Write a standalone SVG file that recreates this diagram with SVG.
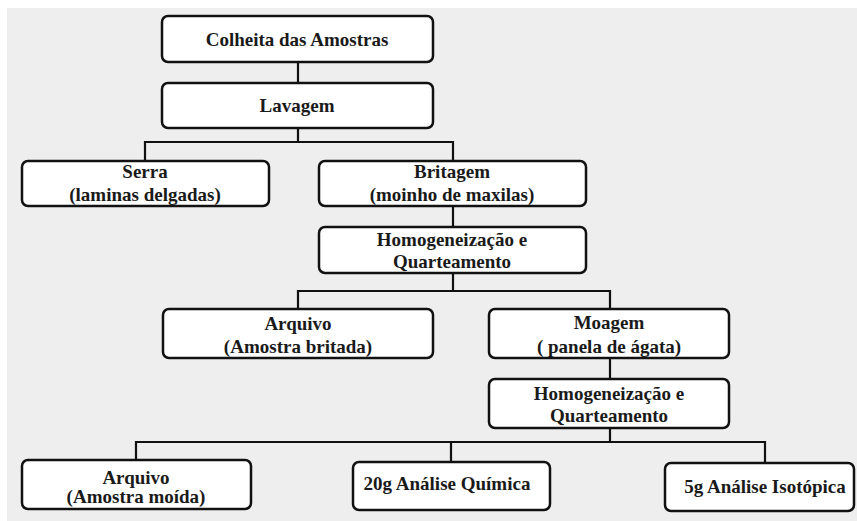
<svg xmlns="http://www.w3.org/2000/svg" width="857" height="521" viewBox="0 0 857 521">
<style>
.box{fill:#ffffff;stroke:#111111;stroke-width:2.5}
.t{font-family:'Liberation Serif','Times New Roman',serif;font-weight:bold;font-size:19px;fill:#1a1a1a;text-anchor:middle}
.c{fill:none;stroke:#111111;stroke-width:2.2}
</style>
<rect x="0" y="0" width="857" height="521" fill="#ffffff"/>
<rect x="7" y="8" width="850" height="513" fill="#eeeeee"/>
<g id="connectors">
<path class="c" d="M298 62V83"/>
<path class="c" d="M298 128V142M145 161V142H453V161"/>
<path class="c" d="M453 206V227"/>
<path class="c" d="M453 273V291M298 309V291H610V309"/>
<path class="c" d="M610 358V379"/>
<path class="c" d="M610 428V443M136 460V442H765V463M451 442V462"/>
</g>
<g id="n1"><rect class="box" x="162" y="16" width="271" height="46" rx="6"/><text class="t" x="297" y="46">Colheita das Amostras</text></g>
<g id="n2"><rect class="box" x="162" y="83" width="271" height="45" rx="6"/><text class="t" x="297" y="112">Lavagem</text></g>
<g id="n3"><rect class="box" x="22" y="161" width="247" height="45" rx="6"/><text class="t" x="145" y="178">Serra</text><text class="t" x="145" y="201">(laminas delgadas)</text></g>
<g id="n4"><rect class="box" x="319" y="161" width="267" height="45" rx="6"/><text class="t" x="452" y="178">Britagem</text><text class="t" x="452" y="201">(moinho de maxilas)</text></g>
<g id="n5"><rect class="box" x="319" y="227" width="267" height="46" rx="6"/><text class="t" x="452" y="246">Homogeneização e</text><text class="t" x="452" y="268">Quarteamento</text></g>
<g id="n6"><rect class="box" x="163" y="309" width="270" height="49" rx="6"/><text class="t" x="298" y="330">Arquivo</text><text class="t" x="298" y="353">(Amostra britada)</text></g>
<g id="n7"><rect class="box" x="489" y="309" width="240" height="49" rx="6"/><text class="t" x="609" y="329">Moagem</text><text class="t" x="609" y="353">( panela de ágata)</text></g>
<g id="n8"><rect class="box" x="489" y="379" width="240" height="49" rx="6"/><text class="t" x="609" y="400">Homogeneização e</text><text class="t" x="609" y="422">Quarteamento</text></g>
<g id="n9"><rect class="box" x="22" y="460" width="229" height="49" rx="6"/><text class="t" x="136" y="484">Arquivo</text><text class="t" x="136" y="503">(Amostra moída)</text></g>
<g id="n10"><rect class="box" x="353" y="462" width="197" height="48" rx="6"/><text class="t" x="447" y="490">20g Análise Química</text></g>
<g id="n11"><rect class="box" x="665" y="463" width="189" height="48" rx="6"/><text class="t" x="765" y="493">5g Análise Isotópica</text></g>
</svg>
